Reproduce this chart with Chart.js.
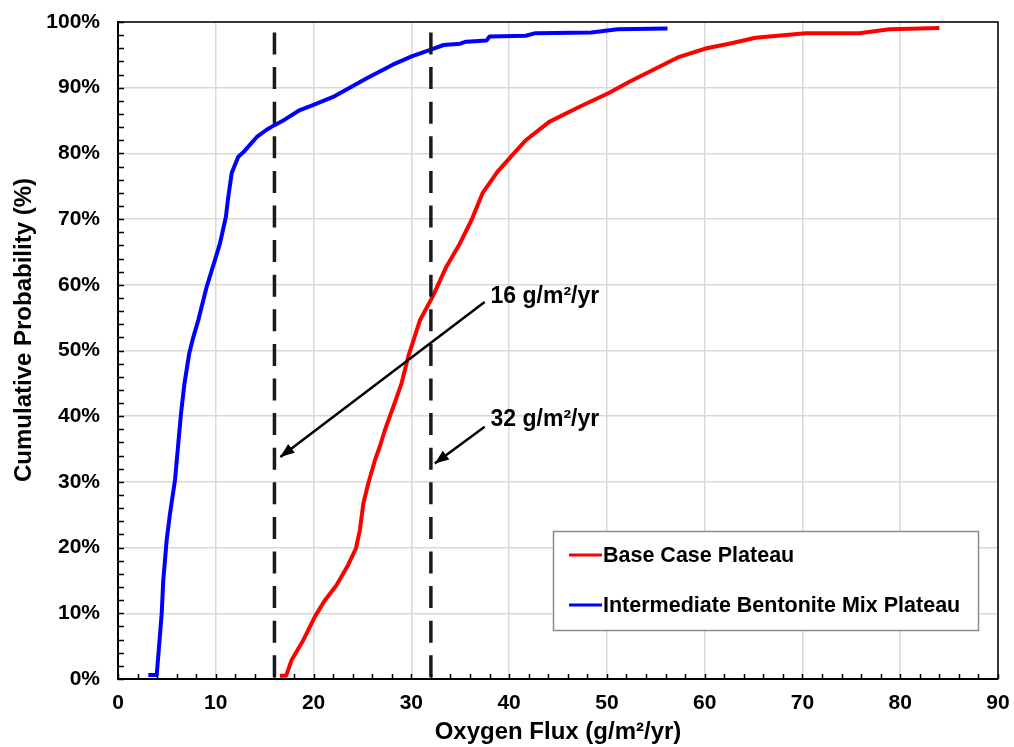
<!DOCTYPE html>
<html>
<head>
<meta charset="utf-8">
<script src="https://cdn.jsdelivr.net/npm/chart.js@4.4.1/dist/chart.umd.min.js"></script>
<style>
  html, body { margin: 0; padding: 0; background: #fff; }
  #chart { display: block; }
</style>
</head>
<body>
<canvas id="chart" width="1014" height="747"></canvas>
<script>
const FONT = '"Liberation Sans", Arial, sans-serif';

// axis ticks
const xTickValues = [0, 10, 20, 30, 40, 50, 60, 70, 80, 90];
const xTickLabels = ['0', '10', '20', '30', '40', '50', '60', '70', '80', '90'];
const yTickValues = [0, 10, 20, 30, 40, 50, 60, 70, 80, 90, 100];
const yTickLabels = ['0%', '10%', '20%', '30%', '40%', '50%', '60%', '70%', '80%', '90%', '100%'];
const yTitle = 'Cumulative Probability (%)';

// Base Case Plateau (red) - flux g/m2/yr vs cumulative %
const baseFlux = [16.56, 17.2, 17.76, 18.95, 20.14, 21.17, 22.36, 23.55, 24.34, 24.74, 25.09, 25.6, 26.28, 26.8, 27.3,
  28.15, 29.0, 29.69, 30.88, 32.18, 33.6, 34.97, 36.17, 37.3, 38.8, 40.6, 41.7, 44.1, 47.2, 50.2, 52.3, 54.7, 57.4,
  60.2, 62.5, 65.2, 70.3, 75.8, 78.9, 84.0];
const baseProb = [0.5, 0.5, 2.9, 5.9, 9.5, 12.0, 14.3, 17.4, 19.9, 22.7, 26.7, 29.8, 33.3, 35.5, 37.9,
  41.4, 45.0, 49.1, 54.6, 58.2, 62.8, 66.3, 69.9, 74.0, 77.2, 80.2, 82.0, 84.8, 87.1, 89.2, 90.9, 92.7, 94.7,
  96.0, 96.7, 97.6, 98.3, 98.3, 98.9, 99.1];

// Intermediate Bentonite Mix Plateau (blue)
const mixFlux = [3.1, 3.96, 4.2, 4.47, 4.63, 4.98, 5.32, 5.83, 6.17, 6.45, 6.8, 7.29, 7.7, 8.21, 9.07, 9.92, 10.43,
  11.04, 11.28, 11.63, 12.3, 12.9, 14.2, 15.2, 16.0, 17.0, 18.6, 20.0, 22.0, 25.4, 28.1, 30.1, 32.0, 33.3, 35.0,
  35.6, 37.7, 38.0, 41.7, 42.7, 48.4, 51.1, 56.2];
const mixProb = [0.6, 0.6, 5.0, 10.0, 15.0, 21.2, 25.2, 30.3, 35.9, 40.5, 45.0, 49.6, 52.0, 54.6, 59.7, 63.8, 66.3,
  70.4, 73.4, 77.0, 79.5, 80.3, 82.5, 83.6, 84.3, 85.1, 86.6, 87.4, 88.6, 91.4, 93.5, 94.8, 95.8, 96.5, 96.7,
  97.0, 97.2, 97.8, 97.9, 98.3, 98.4, 98.9, 99.0];

// criteria lines and their call-outs (data units)
const criteriaFlux = [16, 32];
const criteriaTop = 98.4;
const noteLabels = ['16 g/m\u00b2/yr', '32 g/m\u00b2/yr'];
const noteAnchor = [[38.1, 58.2], [38.1, 39.5]];
const noteFrom = [[37.5, 57.4], [37.5, 38.4]];
const noteTo = [[16.6, 33.8], [32.4, 32.8]];

const toPoints = (xs, ys) => xs.map((v, i) => ({ x: v, y: ys[i] }));

const curveSets = [
  { label: 'Base Case Plateau', data: toPoints(baseFlux, baseProb), borderColor: '#ff0000', borderWidth: 4, order: 2 },
  { label: 'Intermediate Bentonite Mix Plateau', data: toPoints(mixFlux, mixProb), borderColor: '#0000ff', borderWidth: 4, order: 2 }
];

const criteriaSets = criteriaFlux.map((f) => ({
  label: 'criteria', data: [{ x: f, y: criteriaTop }, { x: f, y: 0 }],
  borderColor: '#1a1a1a', borderWidth: 3.5, borderDash: [22, 12.6], order: 1
}));

const arrowSets = noteFrom.map((p, i) => ({
  label: 'arrow', data: [{ x: p[0], y: p[1] }, { x: noteTo[i][0], y: noteTo[i][1] }],
  borderColor: '#000', borderWidth: 2.5, order: 0
}));

const decorPlugin = {
  id: 'decor',
  afterDraw(chart) {
    const { ctx, chartArea: a, scales: { x, y } } = chart;
    ctx.save();

    // frame top / right
    ctx.strokeStyle = '#000';
    ctx.lineWidth = 1.5;
    ctx.beginPath();
    ctx.moveTo(a.left, a.top);
    ctx.lineTo(a.right, a.top);
    ctx.lineTo(a.right, a.bottom);
    ctx.stroke();

    // inward tick marks every 2 units
    ctx.beginPath();
    for (let v = 0; v <= 90; v += 2) {
      const px = Math.round(x.getPixelForValue(v)) + 0.5;
      ctx.moveTo(px, a.bottom);
      ctx.lineTo(px, a.bottom - 5);
    }
    for (let v = 0; v <= 100; v += 2) {
      const py = Math.round(y.getPixelForValue(v)) + 0.5;
      ctx.moveTo(a.left, py);
      ctx.lineTo(a.left + 6, py);
    }
    ctx.stroke();

    // y axis title
    ctx.save();
    ctx.translate(24, 330);
    ctx.rotate(-Math.PI / 2);
    ctx.fillStyle = '#000';
    ctx.font = 'bold 24px ' + FONT;
    ctx.textAlign = 'center';
    ctx.textBaseline = 'middle';
    ctx.fillText(yTitle, 0, 0);
    ctx.restore();

    // arrow heads
    ctx.fillStyle = '#000';
    noteTo.forEach((t, i) => {
      const x1 = x.getPixelForValue(noteFrom[i][0]);
      const y1 = y.getPixelForValue(noteFrom[i][1]);
      const x2 = x.getPixelForValue(t[0]);
      const y2 = y.getPixelForValue(t[1]);
      const ang = Math.atan2(y2 - y1, x2 - x1);
      const len = 14, half = 5.5;
      ctx.beginPath();
      ctx.moveTo(x2, y2);
      ctx.lineTo(x2 - len * Math.cos(ang) + half * Math.sin(ang), y2 - len * Math.sin(ang) - half * Math.cos(ang));
      ctx.lineTo(x2 - len * Math.cos(ang) - half * Math.sin(ang), y2 - len * Math.sin(ang) + half * Math.cos(ang));
      ctx.closePath();
      ctx.fill();
    });

    // call-out labels
    ctx.font = 'bold 23px ' + FONT;
    ctx.textAlign = 'left';
    ctx.textBaseline = 'middle';
    noteLabels.forEach((txt, i) => {
      ctx.fillText(txt, x.getPixelForValue(noteAnchor[i][0]), y.getPixelForValue(noteAnchor[i][1]));
    });

    // legend box
    const bx = 553, by = 531, bw = 425, bh = 99;
    ctx.fillStyle = '#fff';
    ctx.fillRect(bx, by, bw, bh);
    ctx.strokeStyle = '#8c8c8c';
    ctx.lineWidth = 1.5;
    ctx.strokeRect(bx + 0.5, by + 0.5, bw, bh);
    ctx.font = 'bold 21.5px ' + FONT;
    curveSets.forEach((ds, i) => {
      const ly = by + 24 + i * 50;
      ctx.strokeStyle = ds.borderColor;
      ctx.lineWidth = 3;
      ctx.beginPath();
      ctx.moveTo(bx + 16, ly);
      ctx.lineTo(bx + 49, ly);
      ctx.stroke();
      ctx.fillStyle = '#000';
      ctx.fillText(ds.label, bx + 50, ly + 1);
    });

    ctx.restore();
  }
};

Chart.defaults.font.family = FONT;
Chart.defaults.color = '#000';

new Chart(document.getElementById('chart'), {
  type: 'scatter',
  data: { datasets: [...arrowSets, ...criteriaSets, ...curveSets] },
  options: {
    responsive: false,
    animation: false,
    devicePixelRatio: 1,
    showLine: true,
    layout: { padding: { top: 22, right: 16, bottom: 0, left: 10 } },
    elements: {
      point: { radius: 0, hoverRadius: 0 },
      line: { tension: 0, borderJoinStyle: 'round', borderCapStyle: 'butt' }
    },
    plugins: { legend: { display: false }, tooltip: { enabled: false } },
    scales: {
      x: {
        type: 'linear', min: 0, max: 90,
        ticks: {
          stepSize: 10, padding: 12, color: '#000',
          font: { size: 21, weight: 'bold' },
          callback: (v) => xTickLabels[xTickValues.indexOf(v)] ?? ''
        },
        grid: { color: '#d9d9d9', lineWidth: 1.5, drawTicks: false },
        border: { color: '#000', width: 2 },
        title: { display: true, text: 'Oxygen Flux (g/m\u00b2/yr)', color: '#000', padding: 0, font: { size: 24, weight: 'bold' } },
        afterFit: (s) => { s.height = 68; s.paddingLeft = 0; s.paddingRight = 0; }
      },
      y: {
        type: 'linear', min: 0, max: 100,
        ticks: {
          stepSize: 10, padding: 18, color: '#000',
          font: { size: 21, weight: 'bold' },
          callback: (v) => yTickLabels[yTickValues.indexOf(v)] ?? ''
        },
        grid: { color: '#d9d9d9', lineWidth: 1.5, drawTicks: false },
        border: { color: '#000', width: 2 },
        title: { display: false },
        afterFit: (s) => { s.width = 108; s.paddingTop = 0; s.paddingBottom = 0; }
      }
    }
  },
  plugins: [decorPlugin]
});
</script>
</body>
</html>
